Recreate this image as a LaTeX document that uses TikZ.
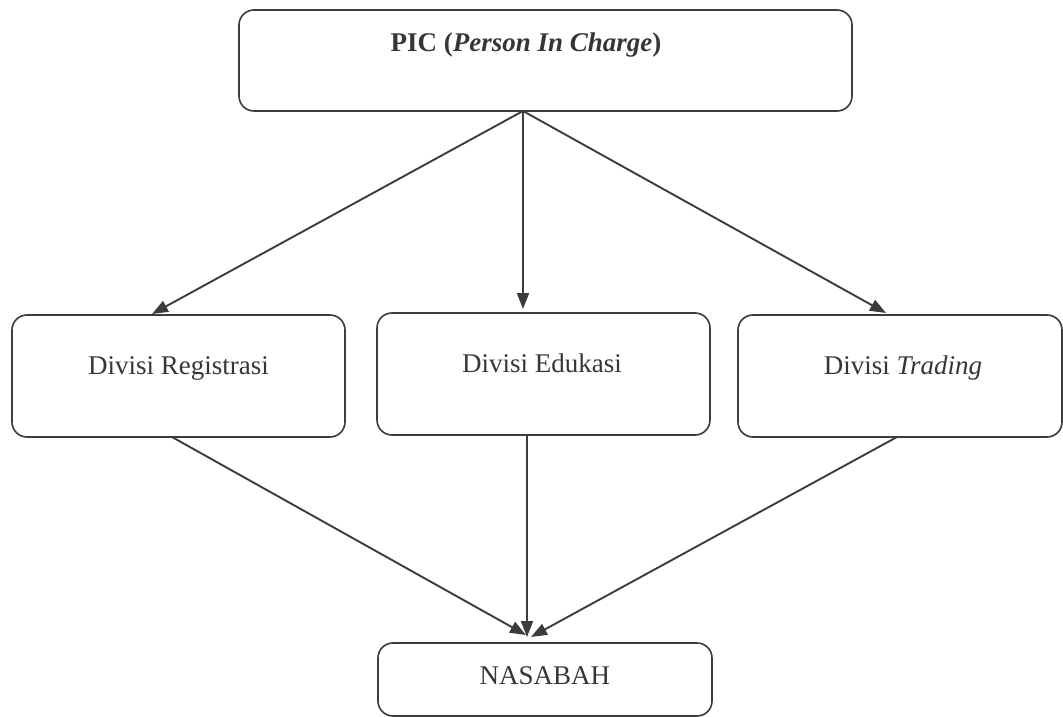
\documentclass[tikz,border=0pt]{standalone}
\usepackage{fontspec}
\setmainfont{Liberation Serif}
\usetikzlibrary{arrows.meta}
\definecolor{linec}{HTML}{3C3C3C}
\definecolor{textc}{HTML}{363636}
\begin{document}
\begin{tikzpicture}[x=1pt,y=-1pt,
  box/.style={draw=linec, line width=1.6pt, rounded corners=15pt, inner sep=0pt},
  lbl/.style={text=textc, inner sep=0pt, anchor=base, font=\fontsize{27}{32}\selectfont},
  conn/.style={draw=linec, line width=1.9pt, -{Triangle[length=16pt,width=12pt]}}]
\useasboundingbox (0,0) rectangle (1063,717);
% boxes
\node[box, minimum width=613pt, minimum height=101pt] (pic) at (545.5,60.5) {};
\node[box, minimum width=333pt, minimum height=122pt] (reg) at (178.5,376) {};
\node[box, minimum width=333pt, minimum height=122pt] (edu) at (543.5,374) {};
\node[box, minimum width=324pt, minimum height=122pt] (trd) at (900,376) {};
\node[box, minimum width=334pt, minimum height=73pt] (nas) at (545,679.5) {};
% texts
\node[lbl] (pict) at (526,52) {\textbf{PIC (\textit{Person In Charge})}};
\node[lbl] (regt) at (178.5,374) {Divisi Registrasi};
\node[lbl] (edut) at (542,372) {Divisi Edukasi};
\node[lbl] (trdt) at (903,374) {Divisi \textit{Trading}};
\node[lbl] (nast) at (545,684) {NASABAH};
% connector points
\coordinate (apex) at (523,111);
\coordinate (regin) at (152,314);
\coordinate (eduin) at (523,309);
\coordinate (trdin) at (886,313);
\coordinate (regout) at (172,437);
\coordinate (eduout) at (527,435);
\coordinate (trdout) at (897,437);
\coordinate (nasl) at (526,635);
\coordinate (nasm) at (527,637);
\coordinate (nasr) at (531,637);
% connectors
\draw[conn] (apex) -- (regin);
\draw[conn] (apex) -- (eduin);
\draw[conn] (apex) -- (trdin);
\draw[conn] (regout) -- (nasl);
\draw[conn] (eduout) -- (nasm);
\draw[conn] (trdout) -- (nasr);
\end{tikzpicture}
\end{document}
